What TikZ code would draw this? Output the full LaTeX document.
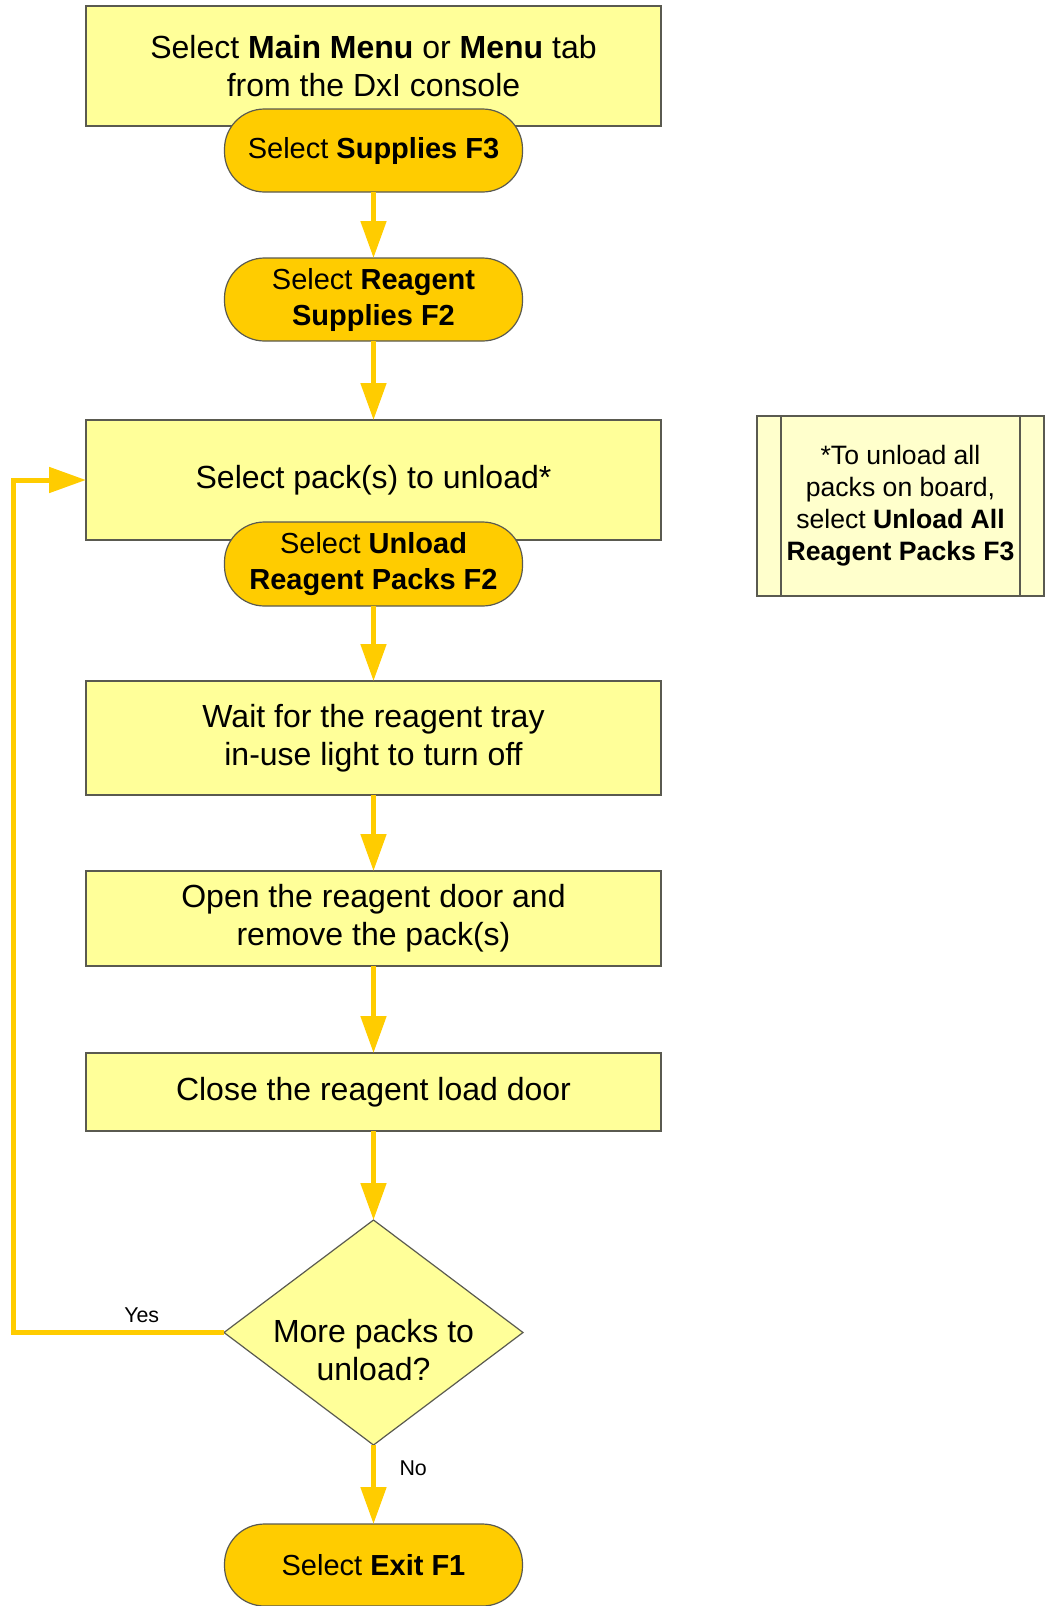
\documentclass[tikz,border=0pt]{standalone}
\usepackage{fontspec}
\setmainfont{Liberation Sans}
\usetikzlibrary{positioning, arrows.meta, shapes.geometric}
\definecolor{boxfill}{RGB}{255,255,153}
\definecolor{notefill}{RGB}{255,255,204}
\definecolor{gold}{RGB}{255,204,0}
\definecolor{edge}{RGB}{90,90,80}

\begin{document}
\begin{tikzpicture}[
        node distance=33pt,
        every node/.style={outer sep=0pt},
        stepbox/.style={rectangle, draw=edge, line width=0.6pt, fill=boxfill, minimum width=287.5pt, align=center, inner sep=0pt, font=\fontsize{16}{19}\selectfont},
        key/.style={rectangle, draw=edge, line width=0.6pt, fill=gold, rounded corners=20pt, minimum width=149pt, minimum height=41.5pt, align=center, inner sep=0pt, font=\fontsize{14.5}{18}\selectfont},
        query/.style={diamond, aspect=1.33, draw=edge, line width=0.6pt, fill=boxfill, minimum width=149.5pt, minimum height=112.5pt, inner sep=0pt},
        remark/.style={rectangle, draw=edge, line width=0.6pt, fill=notefill, minimum width=143.5pt, minimum height=90pt, align=center, inner sep=0pt, font=\fontsize{13.3}{16}\selectfont},
        tag/.style={inner sep=1pt, font=\fontsize{10.7}{13}\selectfont},
        arrow/.style={draw=gold, line width=2.5pt, -{Triangle[length=18.5pt, width=12.5pt]}}
    ]
    \useasboundingbox (0,0) rectangle (522.5pt,-803pt);

    % Nodes
    \node (menu) [stepbox, minimum height=60pt] at (186.75pt,-33pt) {Select \textbf{Main Menu} or \textbf{Menu} tab\\ from the DxI console};
    \node (supplies) [key, below=-8.5pt of menu] {Select \textbf{Supplies F3}};
    \node (reagent) [key, below=of supplies] {Select \textbf{Reagent}\\ \textbf{Supplies F2}};
    \node (pack) [stepbox, minimum height=60pt, below=39.5pt of reagent] {Select pack(s) to unload*};
    \node (unload) [key, minimum height=42pt, below=-9pt of pack] {Select \textbf{Unload}\\ \textbf{Reagent Packs F2}};
    \node (wait) [stepbox, minimum height=57pt, below=37.5pt of unload] {Wait for the reagent tray\\ in-use light to turn off};
    \node (open) [stepbox, minimum height=47.5pt, below=38pt of wait] {Open the reagent door and\\ remove the pack(s)};
    \node (close) [stepbox, minimum height=39pt, below=43.5pt of open] {Close the reagent load door};
    \node (more) [query, below=44.5pt of close, label={[yshift=-9pt, align=center, font=\fontsize{16}{19}\selectfont]center:More packs to\\ unload?}] {};
    \node (exitf1) [key, minimum height=41pt, below=39.5pt of more] {Select \textbf{Exit F1}};

    \node (note) [remark] at (450.25pt,-253pt) {*To unload all\\ packs on board,\\ select \textbf{Unload All}\\ \textbf{Reagent Packs F3}};
    \draw [edge, line width=0.6pt] ([xshift=12pt]note.north west) -- ([xshift=12pt]note.south west);
    \draw [edge, line width=0.6pt] ([xshift=-12pt]note.north east) -- ([xshift=-12pt]note.south east);

    % Arrows
    \draw [arrow] (supplies) -- (reagent);
    \draw [arrow] (reagent) -- (pack);
    \draw [arrow] (unload) -- (wait);
    \draw [arrow] (wait) -- (open);
    \draw [arrow] (open) -- (close);
    \draw [arrow] (close) -- (more);
    \draw [arrow] (more.south) -- node [tag, pos=0.3, right=12pt] {No} (exitf1.north);
    \draw [arrow] (more.west) -- node [tag, pos=0.39, above=4pt] {Yes} ++(-105.5pt,0) |- (pack.west);

\end{tikzpicture}
\end{document}
